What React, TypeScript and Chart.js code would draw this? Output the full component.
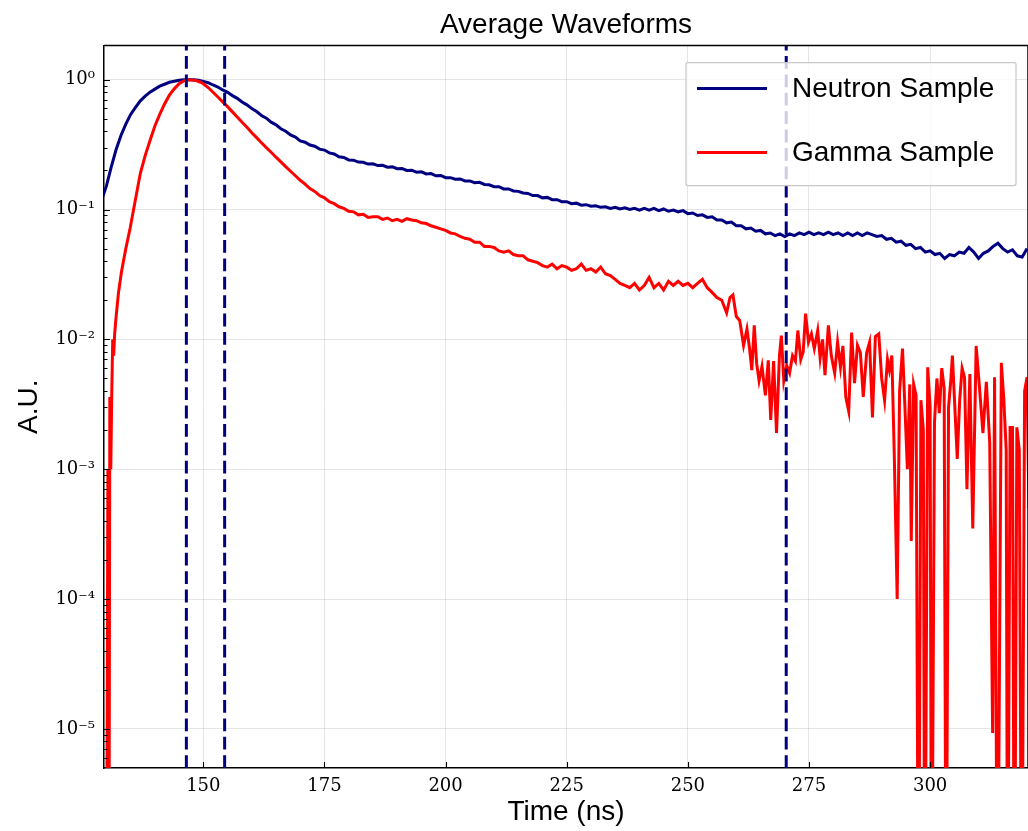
import { useEffect, useRef } from "react";
import { Chart, registerables } from "chart.js";

Chart.register(...registerables);

const TITLE = "Average Waveforms";
const X_LABEL = "Time (ns)";
const Y_LABEL = "A.U.";
const X_MIN = 129.5;
const X_MAX = 320.2;
const Y_MIN = 5e-6;
const Y_MAX = 1.83;
const X_TICKS = [150, 175, 200, 225, 250, 275, 300];
const Y_TICKS = [1e-5, 1e-4, 1e-3, 1e-2, 1e-1, 1];
const Y_TICK_LABELS = ["10⁻⁵", "10⁻⁴", "10⁻³", "10⁻²", "10⁻¹", "10⁰"];
const MARKER_TIMES = [146.5, 154.4, 270.3];

const NEUTRON_LABEL = "Neutron Sample";
const GAMMA_LABEL = "Gamma Sample";
const NEUTRON_COLOR = "#000080";
const GAMMA_COLOR = "#ff0000";

// neutron waveform sampled every 1 ns starting at 129 ns
const NEUTRON_T0 = 129;
const NEUTRON_DT = 1;
const neutronValues = [
  0.118,
  0.152, 0.213, 0.290, 0.372, 0.455, 0.540, 0.611, 0.687, 0.746, 0.802,
  0.846, 0.892, 0.922, 0.955, 0.972, 0.991, 0.997, 1.0, 0.998, 0.991,
  0.970, 0.947, 0.910, 0.878, 0.834, 0.799, 0.754, 0.718, 0.673, 0.640,
  0.599, 0.568, 0.530, 0.505, 0.471, 0.449, 0.419, 0.401, 0.375, 0.361,
  0.338, 0.330, 0.314, 0.307, 0.292, 0.287, 0.273, 0.268, 0.255, 0.252,
  0.241, 0.240, 0.232, 0.231, 0.224, 0.225, 0.218, 0.219, 0.212, 0.213,
  0.206, 0.207, 0.200, 0.201, 0.194, 0.195, 0.188, 0.189, 0.182, 0.183,
  0.176, 0.176, 0.171, 0.172, 0.166, 0.166, 0.161, 0.162, 0.156, 0.155,
  0.150, 0.150, 0.144, 0.144, 0.139, 0.138, 0.134, 0.133, 0.128, 0.128,
  0.123, 0.124, 0.119, 0.119, 0.115, 0.115, 0.111, 0.112, 0.108, 0.109,
  0.106, 0.107, 0.104, 0.105, 0.102, 0.104, 0.101, 0.103, 0.100, 0.102,
  0.099, 0.102, 0.099, 0.102, 0.098, 0.101, 0.097, 0.099, 0.096, 0.098,
  0.093, 0.094, 0.090, 0.091, 0.087, 0.088, 0.083, 0.083, 0.079, 0.080,
  0.075, 0.075, 0.071, 0.072, 0.068, 0.069, 0.065, 0.066, 0.063, 0.065,
  0.062, 0.065, 0.063, 0.066, 0.064, 0.067, 0.064, 0.066, 0.064, 0.067,
  0.064, 0.066, 0.063, 0.066, 0.063, 0.066, 0.063, 0.066, 0.064, 0.062,
  0.063, 0.059, 0.060, 0.056, 0.057, 0.053, 0.054, 0.050, 0.051, 0.047,
  0.048, 0.045, 0.046, 0.042, 0.045, 0.044, 0.047, 0.046, 0.051, 0.047,
  0.042, 0.046, 0.048, 0.052, 0.055, 0.050, 0.047, 0.049, 0.044, 0.043,
  0.050,
];

const gammaTimes = [
  129.4, 130.0, 130.3, 130.5, 130.7, 130.9, 131.1, 131.3, 131.5, 131.7,
  132.0, 132.5, 133.1, 134.0, 134.9, 136, 137, 138, 139, 140,
  141, 142, 143, 144, 145, 146, 146.7, 147.5, 148.5, 149.3,
  150, 151, 152, 153, 154, 155, 156, 157, 158, 159,
  160, 161, 162, 163, 164, 165, 166, 167, 168, 169,
  170, 171, 172, 173, 174, 175, 176, 177, 178, 179,
  180, 181, 182, 183, 184, 185, 186, 187, 188, 189,
  190, 191, 192, 193, 194, 195, 196, 197, 198, 199,
  200, 201, 202, 203, 204, 205, 206, 207, 208, 209,
  210, 211, 212, 213, 214, 215, 216, 217, 218, 219,
  220, 221, 222, 223, 224, 225, 226, 227, 228, 229,
  230, 231, 232, 233, 234, 235, 236, 237, 238, 239,
  240, 241, 242, 243, 244, 245, 246, 247, 248, 249,
  250, 251, 252, 253, 254, 255, 256, 257, 258, 258.7,
  259.3, 260, 260.7, 261.5, 262.2, 262.7, 263.2, 263.7, 264.2, 264.7,
  265.3, 266.0, 266.6, 267.1, 267.7, 268.3, 268.9, 269.3, 269.8, 270.4,
  271.0, 271.6, 272.2, 272.7, 273.3, 273.8, 274.3, 274.9, 275.5, 276.1,
  276.8, 277.3, 277.8, 278.3, 279.0, 279.6, 280.3, 280.9, 281.5, 282.0,
  282.6, 283.2, 283.8, 284.4, 285.0, 285.6, 286.2, 286.9, 287.5, 288.1,
  288.7, 289.4, 290.0, 290.6, 291.2, 291.6, 292.1, 292.6, 293.2, 293.7,
  294.3, 294.8, 295.3, 295.8, 296.1, 296.6, 297.1, 297.6, 298.1, 298.6,
  298.9, 299.5, 300.0, 300.3, 300.9, 301.4, 301.9, 302.4, 302.9, 303.3,
  303.8, 304.3, 304.6, 305.1, 305.6, 306.1, 306.6, 307.1, 307.6, 308.2,
  308.8, 309.5, 310.2, 310.9, 311.6, 312.3, 312.9, 313.3, 313.9, 314.7,
  315.2, 315.7, 316.0, 316.5, 317.0, 317.4, 317.9, 318.4, 318.9, 319.5,
  320.0, 320.4,
];

const gammaValues = [
  1e-7, 1e-7, 1.0e-3, 1e-7, 3.6e-3, 1.0e-3, 3.8e-3, 1.0e-2, 7.5e-3, 1.1e-2,
  0.015, 0.023, 0.033, 0.050, 0.072, 0.12, 0.19, 0.26, 0.34, 0.44,
  0.54, 0.65, 0.76, 0.85, 0.93, 0.98, 1.0, 0.995, 0.985, 0.96,
  0.93, 0.87, 0.80, 0.735, 0.675, 0.62, 0.565, 0.515, 0.47, 0.43,
  0.39, 0.358, 0.327, 0.300, 0.276, 0.253, 0.233, 0.214, 0.197, 0.182,
  0.168, 0.157, 0.145, 0.138, 0.128, 0.123, 0.115, 0.111, 0.105, 0.102,
  0.097, 0.096, 0.091, 0.092, 0.087, 0.088, 0.088, 0.084, 0.086, 0.082,
  0.084, 0.081, 0.085, 0.083, 0.082, 0.079, 0.078, 0.075, 0.073, 0.071,
  0.069, 0.066, 0.065, 0.062, 0.060, 0.059, 0.056, 0.056, 0.052, 0.052,
  0.051, 0.048, 0.047, 0.048, 0.045, 0.044, 0.044, 0.041, 0.040, 0.039,
  0.037, 0.036, 0.038, 0.035, 0.037, 0.036, 0.034, 0.035, 0.038, 0.034,
  0.035, 0.033, 0.036, 0.032, 0.031, 0.029, 0.027, 0.026, 0.025, 0.027,
  0.024, 0.026, 0.030, 0.025, 0.027, 0.024, 0.028, 0.026, 0.028, 0.026,
  0.027, 0.025, 0.027, 0.029, 0.025, 0.023, 0.021, 0.020, 0.016, 0.021,
  0.022, 0.015, 0.014, 0.009, 0.012, 0.0087, 0.0058, 0.0128, 0.0065, 0.0048,
  0.0062, 0.0037, 0.0069, 0.0024, 0.0068, 0.0019, 0.0075, 0.0107, 0.0048, 0.0063,
  0.0055, 0.0075, 0.0068, 0.0117, 0.0070, 0.0080, 0.0158, 0.0095, 0.0110, 0.0085,
  0.0117, 0.0072, 0.0100, 0.0053, 0.0128, 0.0075, 0.0055, 0.0095, 0.0061, 0.0089,
  0.0036, 0.0028, 0.0113, 0.0046, 0.0090, 0.0079, 0.0036, 0.0079, 0.0095, 0.0025,
  0.0105, 0.0110, 0.0050, 0.0034, 0.0070, 0.0058, 0.0075, 0.0013, 1.0e-4, 0.0040,
  0.0085, 0.0030, 0.0010, 0.0045, 0.00028, 0.0045, 0.0037, 1e-7, 0.0034, 0.0020,
  1e-7, 0.0061, 0.0030, 1e-7, 0.0023, 0.0050, 0.0027, 0.0060, 0.0042, 1e-7,
  0.0030, 0.0050, 0.0075, 0.0030, 0.0012, 0.0034, 0.0060, 0.0051, 0.0007, 0.0054,
  0.00035, 0.0089, 0.0042, 0.0019, 0.0047, 0.0016, 9.3e-6, 0.0051, 1e-7, 0.0066,
  0.0035, 0.0014, 1e-7, 0.0021, 0.0021, 1e-7, 0.0021, 0.0014, 1e-7, 0.0040,
  0.0051, 0.0005,
];

const SANS = "'Liberation Sans', Arial, sans-serif";
const SERIF = "'DejaVu Serif', serif";

const decorPlugin = {
  id: "decor",
  afterDatasetsDraw(chart: any) {
    const { ctx, chartArea: a, scales } = chart;
    const x = scales.x;
    const y = scales.y;
    // dashed markers
    ctx.save();
    ctx.beginPath();
    ctx.rect(a.left, a.top, a.right - a.left, a.bottom - a.top);
    ctx.clip();
    ctx.strokeStyle = NEUTRON_COLOR;
    ctx.lineWidth = 3;
    ctx.setLineDash([12.8, 5.6]);
    MARKER_TIMES.forEach((t) => {
      const px = x.getPixelForValue(t);
      ctx.beginPath();
      ctx.moveTo(px, a.bottom);
      ctx.lineTo(px, a.top);
      ctx.stroke();
    });
    ctx.restore();

    // frame and inward ticks
    ctx.save();
    ctx.strokeStyle = "#000";
    ctx.lineWidth = 1.5;
    ctx.beginPath();
    ctx.moveTo(a.left, a.top);
    ctx.lineTo(a.right, a.top);
    ctx.moveTo(a.right, a.top);
    ctx.lineTo(a.right, a.bottom);
    ctx.stroke();
    ctx.lineWidth = 1.1;
    ctx.beginPath();
    X_TICKS.forEach((t) => {
      const px = Math.round(x.getPixelForValue(t)) + 0.5;
      ctx.moveTo(px, a.bottom);
      ctx.lineTo(px, a.bottom - 6);
    });
    Y_TICKS.forEach((v) => {
      const py = Math.round(y.getPixelForValue(v)) + 0.5;
      ctx.moveTo(a.left, py);
      ctx.lineTo(a.left + 6, py);
    });
    for (let e = -6; e <= 0; e++) {
      for (let m = 2; m <= 9; m++) {
        const v = m * Math.pow(10, e);
        if (v < Y_MIN || v > Y_MAX) continue;
        const py = Math.round(y.getPixelForValue(v)) + 0.5;
        ctx.moveTo(a.left, py);
        ctx.lineTo(a.left + 3.5, py);
      }
    }
    ctx.stroke();
    ctx.restore();
  },
  afterDraw(chart: any) {
    const { ctx, chartArea: a } = chart;
    const boxW = 330;
    const boxH = 123;
    const boxLeft = a.right - 12 - boxW;
    const boxTop = a.top + 17;
    ctx.save();
    ctx.fillStyle = "rgba(255,255,255,0.8)";
    ctx.strokeStyle = "#c8c8c8";
    ctx.lineWidth = 1.2;
    ctx.beginPath();
    const r = 2;
    ctx.moveTo(boxLeft + r, boxTop);
    ctx.lineTo(boxLeft + boxW - r, boxTop);
    ctx.quadraticCurveTo(boxLeft + boxW, boxTop, boxLeft + boxW, boxTop + r);
    ctx.lineTo(boxLeft + boxW, boxTop + boxH - r);
    ctx.quadraticCurveTo(boxLeft + boxW, boxTop + boxH, boxLeft + boxW - r, boxTop + boxH);
    ctx.lineTo(boxLeft + r, boxTop + boxH);
    ctx.quadraticCurveTo(boxLeft, boxTop + boxH, boxLeft, boxTop + boxH - r);
    ctx.lineTo(boxLeft, boxTop + r);
    ctx.quadraticCurveTo(boxLeft, boxTop, boxLeft + r, boxTop);
    ctx.closePath();
    ctx.fill();
    ctx.stroke();
    const rows = [26, 90];
    chart.data.datasets.forEach((ds: any, i: number) => {
      const cy = boxTop + rows[i];
      ctx.strokeStyle = ds.borderColor;
      ctx.lineWidth = 3;
      ctx.beginPath();
      ctx.moveTo(boxLeft + 11, cy);
      ctx.lineTo(boxLeft + 81, cy);
      ctx.stroke();
      ctx.fillStyle = "#000";
      ctx.font = `28px ${SANS}`;
      ctx.textBaseline = "middle";
      ctx.textAlign = "left";
      ctx.fillText(ds.label, boxLeft + 106, cy + 1);
    });
    ctx.restore();
  },
};

export default function App() {
  const ref = useRef<HTMLCanvasElement>(null);
  useEffect(() => {
    const neutronData = neutronValues.map((v, i) => ({ x: NEUTRON_T0 + i * NEUTRON_DT, y: v }));
    const gammaData = gammaTimes.map((t, i) => ({ x: t, y: gammaValues[i] }));
    const chart = new Chart(ref.current as HTMLCanvasElement, {
      type: "line",
      data: {
        datasets: [
          {
            label: NEUTRON_LABEL,
            data: neutronData,
            borderColor: NEUTRON_COLOR,
            backgroundColor: NEUTRON_COLOR,
            borderWidth: 3,
            pointRadius: 0,
            tension: 0,
            order: 1,
          },
          {
            label: GAMMA_LABEL,
            data: gammaData,
            borderColor: GAMMA_COLOR,
            backgroundColor: GAMMA_COLOR,
            borderWidth: 3,
            pointRadius: 0,
            tension: 0,
            order: 0,
          },
        ],
      },
      options: {
        animation: false,
        responsive: false,
        layout: { padding: { left: 0, right: 0, top: 0, bottom: 0 } },
        plugins: {
          legend: { display: false },
          tooltip: { enabled: false },
          title: {
            display: true,
            fullSize: false,
            text: TITLE,
            color: "#000",
            font: { family: SANS, size: 28, weight: "normal" },
            padding: { top: 8, bottom: 4 },
          },
        },
        scales: {
          x: {
            type: "linear",
            min: X_MIN,
            max: X_MAX,
            afterBuildTicks: (s: any) => {
              s.ticks = X_TICKS.map((v) => ({ value: v }));
            },
            afterFit: (s: any) => {
              s.height = 63;
            },
            ticks: {
              autoSkip: false,
              maxRotation: 0,
              padding: 8,
              color: "#000",
              font: { family: SERIF, size: 18 },
              callback: (v: any) => String(v),
            },
            grid: { color: "rgba(0,0,0,0.1)", lineWidth: 1, drawTicks: false },
            border: { display: true, color: "#000", width: 1.5 },
            title: {
              display: true,
              text: X_LABEL,
              color: "#000",
              font: { family: SANS, size: 28 },
              padding: { top: 0, bottom: 2 },
            },
          },
          y: {
            type: "logarithmic",
            min: Y_MIN,
            max: Y_MAX,
            afterBuildTicks: (s: any) => {
              s.ticks = Y_TICKS.map((v) => ({ value: v }));
            },
            afterFit: (s: any) => {
              s.width = 104;
            },
            ticks: {
              autoSkip: false,
              padding: 9,
              color: "#000",
              font: { family: SERIF, size: 18 },
              callback: (_v: any, i: number) => Y_TICK_LABELS[i],
            },
            grid: { color: "rgba(0,0,0,0.1)", lineWidth: 1, drawTicks: false },
            border: { display: true, color: "#000", width: 1.5 },
            title: {
              display: true,
              text: Y_LABEL,
              color: "#000",
              font: { family: SANS, size: 28 },
              padding: { top: 12, bottom: 0 },
            },
          },
        },
      },
      plugins: [decorPlugin],
    } as any);
    return () => chart.destroy();
  }, []);
  return (
    <div style={{ position: "fixed", left: 0, top: 0, width: 1028, height: 831, background: "#fff" }}>
      <canvas ref={ref} width={1028} height={831} style={{ display: "block" }} />
    </div>
  );
}
